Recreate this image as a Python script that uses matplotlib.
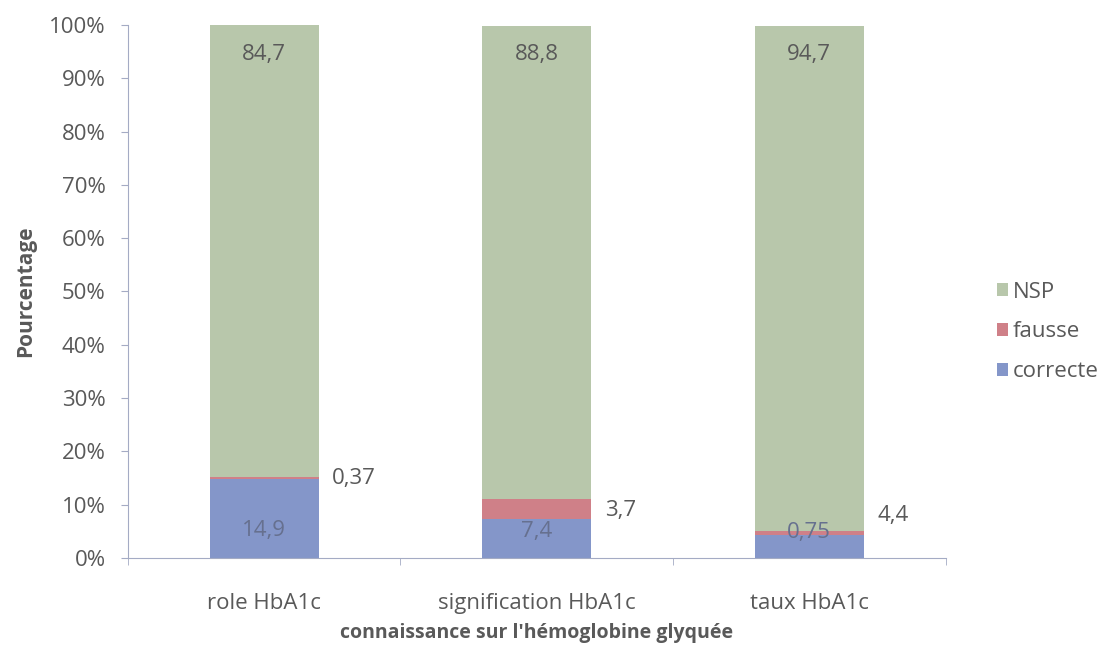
import matplotlib.pyplot as plt
import numpy as np
from matplotlib.ticker import PercentFormatter

plt.rcParams['font.family'] = ['Open Sans', 'DejaVu Sans']

categories = ["role HbA1c", "signification HbA1c", "taux HbA1c"]
correcte = [14.9, 7.4, 4.4]
fausse = [0.37, 3.7, 0.75]
nsp = [84.7, 88.8, 94.7]

# label text and where it sits (value in %)
inner_labels = ["14,9", "7,4", "0,75"]
inner_y = [5.2, 4.9, 4.7]
side_labels = ["0,37", "3,7", "4,4"]
side_y = [15.0, 9.0, 8.0]
top_labels = ["84,7", "88,8", "94,7"]

text_col = "#595959"
axis_col = "#a4abc4"
c_blue = "#8496c9"
c_red = "#cf8088"
c_green = "#b8c7ab"

fig = plt.figure(figsize=(11.02, 6.47), dpi=100)
ax = fig.add_axes([0.116, 0.1376, 0.742, 0.8238])

x = np.arange(len(categories))
w = 0.40
correcte = np.array(correcte)
fausse = np.array(fausse)
nsp = np.array(nsp)

b1 = ax.bar(x, correcte, w, color=c_blue, label="correcte")
b2 = ax.bar(x, fausse, w, bottom=correcte, color=c_red, label="fausse")
b3 = ax.bar(x, nsp, w, bottom=correcte + fausse, color=c_green, label="NSP")

for i in range(len(categories)):
    ax.text(x[i], inner_y[i], inner_labels[i], ha="center", va="center",
            fontsize=16, color="#66708f")
    ax.text(x[i] + w / 2 + 0.05, side_y[i], side_labels[i], ha="left",
            va="center", fontsize=16, color=text_col)
    ax.text(x[i], 94.5, top_labels[i], ha="center", va="center",
            fontsize=16, color=text_col)

ax.set_xlim(-0.5, 2.5)
ax.set_ylim(0, 100)
ax.set_yticks(np.arange(0, 101, 10))
ax.yaxis.set_major_formatter(PercentFormatter(decimals=0))
ax.set_xticks(x)
ax.set_xticklabels(categories)
ax.set_xticks([-0.5, 0.5, 1.5, 2.5], minor=True)
ax.tick_params(axis="x", which="major", length=0, pad=25, labelsize=16,
               labelcolor=text_col)
ax.tick_params(axis="x", which="minor", length=5, color=axis_col)
ax.tick_params(axis="y", length=5, color=axis_col, labelsize=16,
               labelcolor=text_col, pad=11)

for s in ["top", "right"]:
    ax.spines[s].set_visible(False)
for s in ["left", "bottom"]:
    ax.spines[s].set_color(axis_col)

ax.set_ylabel("Pourcentage", fontsize=15, fontweight="bold", color=text_col,
              labelpad=9)
ax.set_xlabel("connaissance sur l'hémoglobine glyquée", fontsize=14,
              fontweight="bold", color=text_col, labelpad=7)

leg = fig.legend(handles=[b3, b2, b1], labels=["NSP", "fausse", "correcte"],
                 loc="center left", bbox_to_anchor=(0.905, 0.487),
                 frameon=False, fontsize=16, handlelength=0.5,
                 handleheight=0.5, handletextpad=0.2, labelspacing=0.85,
                 borderpad=0, borderaxespad=0, labelcolor=text_col)

fig.savefig("out.png", dpi=100)
